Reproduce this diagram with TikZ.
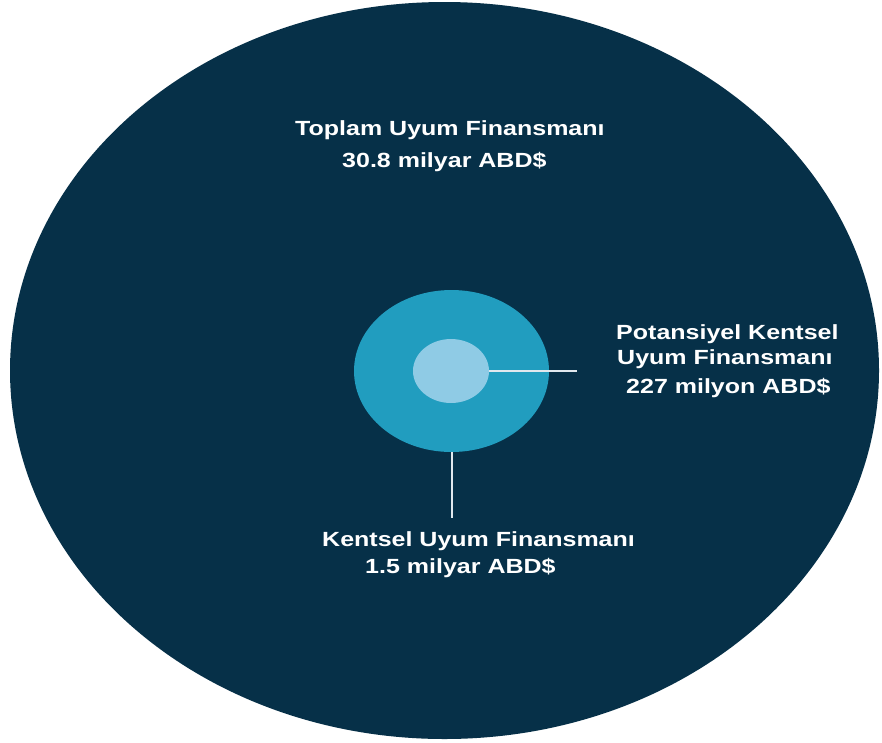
\documentclass[tikz,border=0pt]{standalone}
\usepackage{fontspec}
\setmainfont{Liberation Sans}
\usetikzlibrary{shapes.geometric}
\definecolor{navy}{RGB}{6,48,72}
\definecolor{midblue}{RGB}{33,157,191}
\definecolor{lightblue}{RGB}{143,203,229}
\definecolor{linecol}{RGB}{225,232,238}
\newcommand{\wide}[1]{\scalebox{1.22}[1]{#1}}
\tikzset{
  blob/.style={ellipse, draw=none, inner sep=0pt},
  lbl/.style={anchor=base west, inner sep=0pt, text=white,
    font=\fontsize{20.5}{24}\selectfont\bfseries},
  leader/.style={draw=linecol, line width=2pt}
}
\begin{document}
\begin{tikzpicture}[x=1pt,y=-1pt]
\useasboundingbox (0,0) rectangle (882,742);
\fill[white] (0,0) rectangle (882,742);
\node[blob, fill=navy, minimum width=869pt, minimum height=737pt] (total) at (444.5,370.5) {};
\node[blob, fill=midblue, minimum width=195pt, minimum height=162pt] (urban) at (451.5,371) {};
\node[blob, fill=lightblue, minimum width=76pt, minimum height=64pt] (potential) at (451,371) {};
\coordinate (pend) at (577,371);
\coordinate (uend) at (451.5,518);
\draw[leader] (potential.east) -- (pend);
\draw[leader] (urban.south) -- (uend);
\node[lbl] (t1) at (295,135) {\wide{Toplam Uyum Finansmanı}};
\node[lbl] (t2) at (342,167) {\wide{30.8 milyar ABD\$}};
\node[lbl] (p1) at (616,339) {\wide{Potansiyel Kentsel}};
\node[lbl] (p2) at (617,364) {\wide{Uyum Finansmanı}};
\node[lbl] (p3) at (626,393) {\wide{227 milyon ABD\$}};
\node[lbl] (k1) at (322,546) {\wide{Kentsel Uyum Finansmanı}};
\node[lbl] (k2) at (365,573) {\wide{1.5 milyar ABD\$}};
\end{tikzpicture}
\end{document}
